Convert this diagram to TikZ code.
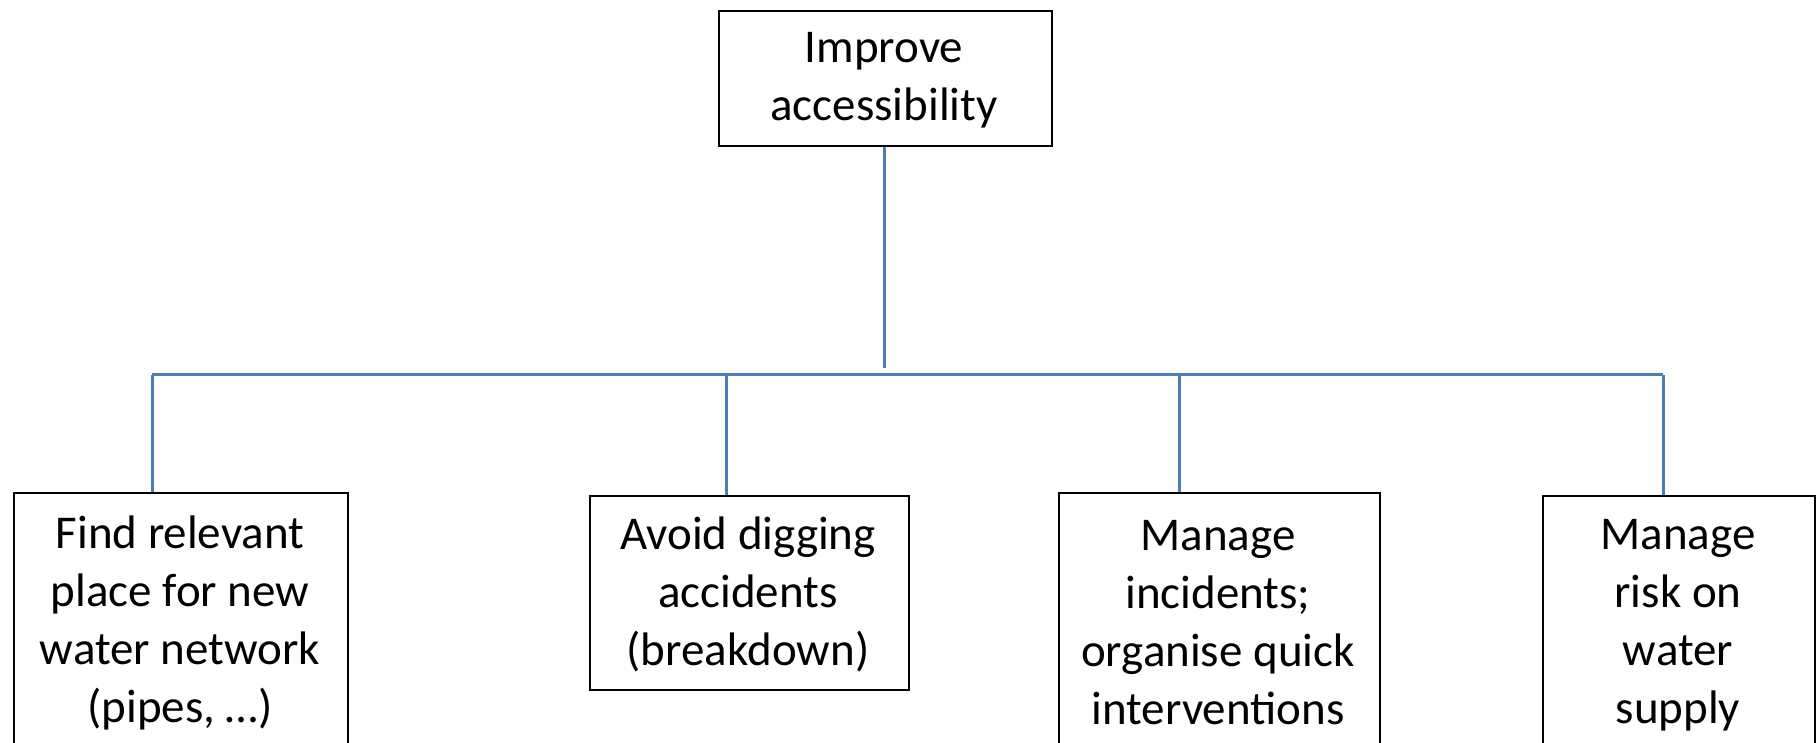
\documentclass[tikz,border=0pt]{standalone}
\usepackage{fontspec}
\setmainfont{Carlito}
\definecolor{linkblue}{RGB}{74,126,187}
\begin{document}
\begin{tikzpicture}[x=1pt,y=-1pt,
  box/.style={draw=black,line width=2pt,anchor=north west,inner sep=0pt},
  label/.style={align=center,inner sep=0pt,font=\fontsize{47}{58}\selectfont},
  link/.style={draw=linkblue,line width=3pt}]
\useasboundingbox (0,0) rectangle (1816,743);
\clip (0,0) rectangle (1816,743);
% boxes
\node[box,minimum width=333pt,minimum height=135pt] (top) at (718,10) {};
\node[box,minimum width=334pt,minimum height=320pt] (b1) at (13,492) {};
\node[box,minimum width=319pt,minimum height=194pt] (b2) at (589,495) {};
\node[box,minimum width=321pt,minimum height=320pt] (b3) at (1058,492) {};
\node[box,minimum width=272pt,minimum height=320pt] (b4) at (1542,495) {};
% texts
\node[label] (ttop) at (884,80) {Improve\\accessibility};
\node[label] (t1) at (180,623) {Find relevant\\place for new\\water network\\(pipes, …)};
\node[label] (t2) at (748,594) {Avoid digging\\accidents\\(breakdown)};
\node[label] (t3) at (1218,623) {Manage\\incidents;\\organise quick\\interventions};
\node[label] (t4) at (1678,625) {Manage\\risk on\\water\\supply};
% connectors
\coordinate (tend) at (884,368);
\coordinate (j1) at (152,375);
\coordinate (j2) at (726,375);
\coordinate (j3) at (1179,375);
\coordinate (j4) at (1663,375);
\draw[link] (top.south -| tend) -- (tend);
\draw[link] (j1) -- (j4);
\draw[link] (j1) -- (j1 |- b1.north);
\draw[link] (j2) -- (j2 |- b2.north);
\draw[link] (j3) -- (j3 |- b3.north);
\draw[link] (j4) -- (j4 |- b4.north);
\end{tikzpicture}
\end{document}
